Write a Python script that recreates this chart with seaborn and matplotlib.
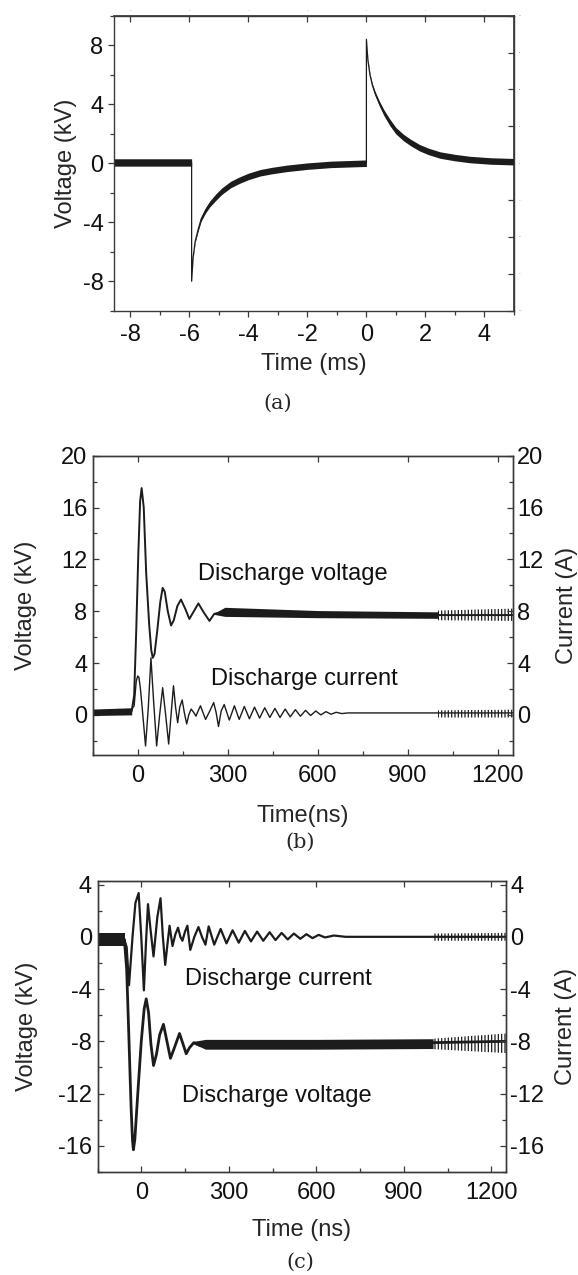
import numpy as np
import pandas as pd
import matplotlib
matplotlib.use("Agg")
import matplotlib.pyplot as plt
from matplotlib.ticker import MultipleLocator
import seaborn as sns

# ---- (a) 電圧トレース (ms, kV) ----
time_a = [-8.55, -5.92, -5.92, -5.87, -5.8, -5.7, -5.6, -5.45, -5.3, -5.1,
          -4.9, -4.6, -4.3, -4.0, -3.6, -3.2, -2.7, -2.0, -1.2, 0.0,
          0.0, 0.05, 0.12, 0.2, 0.3, 0.45, 0.6, 0.8, 1.0, 1.25,
          1.5, 1.8, 2.1, 2.5, 3.0, 3.5, 4.2, 5.0]
volt_a = [0.05, 0.05, -8.0, -6.4, -5.3, -4.5, -3.8, -3.2, -2.75, -2.3,
          -1.9, -1.45, -1.15, -0.9, -0.65, -0.5, -0.35, -0.2, -0.08, 0.0,
          8.4, 7.0, 6.0, 5.3, 4.7, 4.0, 3.4, 2.75, 2.2, 1.75,
          1.4, 1.05, 0.8, 0.55, 0.38, 0.25, 0.15, 0.1]
noise_a = [0.25, 0.25, 0.03, 0.05, 0.08, 0.12, 0.15, 0.18, 0.2, 0.22,
           0.22, 0.22, 0.22, 0.22, 0.22, 0.22, 0.22, 0.22, 0.22, 0.22,
           0.03, 0.05, 0.08, 0.1, 0.14, 0.17, 0.2, 0.22, 0.22, 0.22,
           0.22, 0.22, 0.22, 0.22, 0.22, 0.22, 0.22, 0.22]

# ---- (b) 放電電圧・放電電流 (ns) ----
time_bv = [-150, -20, -12, -5, 2, 8, 13, 20, 28, 38,
           45, 50, 56, 65, 75, 83, 90, 100, 111, 120,
           132, 144, 158, 172, 187, 202, 220, 239, 255, 300,
           400, 500, 600, 700, 800, 900, 1000, 1250]
volt_bv = [0.2, 0.3, 1.5, 6.5, 12.5, 16.5, 17.5, 16.0, 11.0, 7.0,
           5.0, 4.4, 4.7, 6.5, 8.7, 9.8, 9.5, 8.0, 6.9, 7.3,
           8.4, 8.9, 8.2, 7.4, 8.0, 8.6, 7.9, 7.25, 7.8, 8.0,
           7.9, 7.8, 7.75, 7.8, 7.7, 7.7, 7.7, 7.7]
time_bi = [-150, -25, -12, -5, 0, 4, 9, 15, 26, 35,
           44, 53, 63, 73, 83, 93, 103, 111, 119, 126,
           133, 140, 148, 155, 163, 170, 178, 186, 194, 201,
           209, 217, 226, 240, 253, 261, 269, 278, 288, 305,
           322, 338, 355, 372, 389, 406, 423, 440, 457, 474,
           491, 508, 525, 542, 559, 576, 593, 610, 627, 644,
           661, 680, 700, 800, 1000, 1250]
curr_bi = [0.2, 0.3, 0.7, 2.6, 3.0, 2.9, 2.0, 0.5, -2.4, 0.5,
           4.4, 1.0, -2.4, 0.0, 2.1, 0.0, -2.25, 0.0, 2.25, 0.6,
           -0.6, 0.6, 1.15, 0.2, -0.7, 0.0, 0.45, 0.2, -0.1, 0.3,
           0.7, 0.2, -0.35, 0.3, 0.95, 0.2, -0.9, 0.3, 0.8, -0.4,
           0.7, -0.35, 0.65, -0.3, 0.6, -0.25, 0.55, -0.2, 0.5, -0.2,
           0.45, -0.15, 0.4, -0.1, 0.35, -0.05, 0.3, 0.0, 0.25, 0.05,
           0.2, 0.1, 0.15, 0.15, 0.15, 0.15]
# ノイズ帯 (時刻, 下限, 上限)
pre_t_b, pre_lo_b, pre_hi_b = [-150, -20], [-0.05, 0.0], [0.45, 0.55]
tail_t_bv, tail_lo_bv, tail_hi_bv = [255, 290, 600, 1000], [7.75, 7.6, 7.5, 7.45], [7.85, 8.3, 8.05, 7.95]
end_t_b = [1000, 1250]
end_lo_bv, end_hi_bv = [7.3, 7.25], [8.05, 8.2]
end_lo_bi, end_hi_bi = [-0.2, -0.2], [0.35, 0.4]

# ---- (c) 放電電流・放電電圧 (ns) ----
time_ci = [-150, -58, -50, -42, -30, -20, -9, 0, 9, 16,
           23, 32, 42, 55, 66, 74, 82, 90, 97, 107,
           117, 126, 134, 141, 150, 158, 168, 182, 196, 208,
           220, 231, 250, 272, 292, 313, 334, 355, 376, 397,
           418, 440, 460, 481, 502, 523, 545, 566, 587, 608,
           630, 660, 700, 1000, 1250]
curr_ci = [-0.2, -0.2, -0.8, -3.7, 0.0, 2.6, 3.35, 0.0, -4.1, -0.5,
           2.5, 0.5, -1.5, 1.5, 2.95, 0.0, -2.15, -0.5, 0.85, -0.7,
           0.2, 0.7, 0.0, -0.3, 0.4, 0.85, -1.0, 0.0, 0.75, 0.0,
           -0.6, 0.8, -0.6, 0.6, -0.5, 0.5, -0.45, 0.45, -0.35, 0.4,
           -0.3, 0.35, -0.25, 0.3, -0.2, 0.25, -0.15, 0.2, -0.1, 0.15,
           -0.05, 0.1, 0.0, 0.0, 0.0]
time_cv = [-150, -58, -50, -42, -35, -30, -27, -22, -12, 0,
           10, 17, 25, 33, 42, 52, 63, 76, 88, 100,
           115, 131, 143, 154, 165, 180, 200, 300, 400, 500,
           600, 700, 800, 900, 1000, 1250]
volt_cv = [-0.2, -0.2, -2.5, -8.0, -13.0, -15.6, -16.3, -15.5, -12.0, -8.0,
           -5.5, -4.75, -5.8, -8.2, -9.85, -9.0, -7.5, -6.7, -8.0, -9.3,
           -8.4, -7.4, -8.2, -8.95, -8.5, -8.1, -8.3, -8.2, -8.2, -8.2,
           -8.2, -8.2, -8.2, -8.2, -8.1, -8.0]
pre_t_c, pre_lo_c, pre_hi_c = [-150, -55], [-0.7, -0.7], [0.3, 0.3]
tail_t_cv, tail_lo_cv, tail_hi_cv = [180, 220, 600, 1000], [-8.2, -8.6, -8.6, -8.55], [-8.0, -7.85, -7.85, -7.8]
end_t_c = [1000, 1250]
end_lo_cv, end_hi_cv = [-8.6, -8.9], [-7.8, -7.4]
end_lo_ci, end_hi_ci = [-0.3, -0.3], [0.25, 0.3]

INK = "#1c1c1c"
SPINE = "#3a3a3a"

sns.set_theme(style="ticks")
plt.rcParams["font.family"] = ["Liberation Sans", "DejaVu Sans"]
plt.rcParams["axes.unicode_minus"] = False
plt.rcParams["hatch.linewidth"] = 0.9
plt.rcParams["hatch.color"] = INK

FS = 17


def trace(ax, t, y, lw):
    df = pd.DataFrame({"t": t, "y": y})
    sns.lineplot(data=df, x="t", y="y", ax=ax, color=INK, lw=lw,
                 estimator=None, sort=False, legend=False)


def band(ax, t, lo, hi):
    ax.fill_between(t, lo, hi, color=INK, lw=0)


def hatch(ax, t, lo, hi):
    ax.fill_between(t, lo, hi, facecolor="none", edgecolor=INK,
                    hatch="|||||", lw=0)


def frame(ax, direction):
    for s in ax.spines.values():
        s.set_color(SPINE)
        s.set_linewidth(1.0)
        s.set_visible(True)
    ax.tick_params(which="both", direction=direction, colors=SPINE,
                   labelcolor="#111111", labelsize=FS, width=0.9)
    ax.tick_params(which="major", length=4.5)
    ax.tick_params(which="minor", length=3)


fig = plt.figure(figsize=(5.78, 12.75), dpi=100)

# ---------- (a) ----------
ax = fig.add_axes([0.1972, 0.7563, 0.6921, 0.2314])
fill_lo = [v - n for v, n in zip(volt_a, noise_a)]
fill_hi = [v + n for v, n in zip(volt_a, noise_a)]
band(ax, time_a, fill_lo, fill_hi)
trace(ax, time_a, volt_a, 0.9)
ax.set_xlim(-8.55, 5.0)
ax.set_ylim(-10, 10)
ax.xaxis.set_major_locator(MultipleLocator(2))
ax.xaxis.set_minor_locator(MultipleLocator(1))
ax.set_yticks([-8, -4, 0, 4, 8])
ax.yaxis.set_minor_locator(MultipleLocator(2))
frame(ax, "out")
ax.tick_params(axis="x", pad=5)
ax.tick_params(axis="y", pad=3)
ax.set_xlabel("Time (ms)", fontsize=FS, labelpad=5)
ax.set_ylabel("Voltage (kV)", fontsize=FS, labelpad=4)
for sec in (ax.secondary_xaxis("top"), ax.secondary_yaxis("right")):
    sec.tick_params(which="both", direction="in", colors=SPINE, labelsize=0, width=0.9)
    sec.tick_params(which="major", length=4.5)
    sec.tick_params(which="minor", length=3)
    for s in sec.spines.values():
        s.set_color(SPINE)
fig.text(0.481, 0.684, "(a)", ha="center", va="center", fontsize=15, family="DejaVu Serif")


def twin_setup(ax, ylim, yticks, pad):
    ax2 = ax.twinx()
    ax2.set_ylim(*ylim)
    ax2.set_yticks(yticks)
    ax2.yaxis.set_minor_locator(MultipleLocator(2))
    frame(ax2, "in")
    ax2.tick_params(axis="y", pad=3)
    ax2.set_ylabel("Current (A)", fontsize=FS, labelpad=pad)
    return ax2


# ---------- (b) ----------
ax = fig.add_axes([0.1604, 0.4078, 0.7271, 0.2348])
band(ax, pre_t_b, pre_lo_b, pre_hi_b)
band(ax, tail_t_bv, tail_lo_bv, tail_hi_bv)
hatch(ax, end_t_b, end_lo_bv, end_hi_bv)
hatch(ax, end_t_b, end_lo_bi, end_hi_bi)
trace(ax, time_bv, volt_bv, 1.4)
trace(ax, time_bi, curr_bi, 1.0)
ax.set_xlim(-150, 1250)
ax.set_ylim(-3.1, 20)
ax.set_xticks([0, 300, 600, 900, 1200])
ax.xaxis.set_minor_locator(MultipleLocator(150))
ax.set_yticks([0, 4, 8, 12, 16, 20])
ax.yaxis.set_minor_locator(MultipleLocator(2))
frame(ax, "in")
ax.tick_params(axis="x", pad=7, top=True)
ax.tick_params(axis="y", pad=4)
ax.set_xlabel("Time(ns)", fontsize=FS, labelpad=13)
ax.set_ylabel("Voltage (kV)", fontsize=FS, labelpad=17)
ax.text(200, 10.9, "Discharge voltage", fontsize=FS, va="center", ha="left", color="#111111")
ax.text(243, 2.8, "Discharge current", fontsize=FS, va="center", ha="left", color="#111111")
twin_setup(ax, (-3.1, 20), [0, 4, 8, 12, 16, 20], 9)
fig.text(0.519, 0.339, "(b)", ha="center", va="center", fontsize=15, family="DejaVu Serif")

# ---------- (c) ----------
ax = fig.add_axes([0.1687, 0.0808, 0.7067, 0.2285])
band(ax, pre_t_c, pre_lo_c, pre_hi_c)
band(ax, tail_t_cv, tail_lo_cv, tail_hi_cv)
hatch(ax, end_t_c, end_lo_cv, end_hi_cv)
hatch(ax, end_t_c, end_lo_ci, end_hi_ci)
trace(ax, time_cv, volt_cv, 2.0)
trace(ax, time_ci, curr_ci, 1.6)
ax.set_xlim(-150, 1250)
ax.set_ylim(-18, 4.3)
ax.set_xticks([0, 300, 600, 900, 1200])
ax.xaxis.set_minor_locator(MultipleLocator(150))
ax.set_yticks([-16, -12, -8, -4, 0, 4])
ax.yaxis.set_minor_locator(MultipleLocator(2))
frame(ax, "in")
ax.tick_params(axis="x", pad=7, top=True)
ax.tick_params(axis="y", pad=4)
ax.set_xlabel("Time (ns)", fontsize=FS, labelpad=11)
ax.set_ylabel("Voltage (kV)", fontsize=FS, labelpad=14)
ax.text(149, -3.2, "Discharge current", fontsize=FS, va="center", ha="left", color="#111111")
ax.text(139, -12.2, "Discharge voltage", fontsize=FS, va="center", ha="left", color="#111111")
twin_setup(ax, (-18, 4.3), [-16, -12, -8, -4, 0, 4], 8)
fig.text(0.519, 0.0102, "(c)", ha="center", va="center", fontsize=15, family="DejaVu Serif")

fig.savefig("out.png", dpi=100)
